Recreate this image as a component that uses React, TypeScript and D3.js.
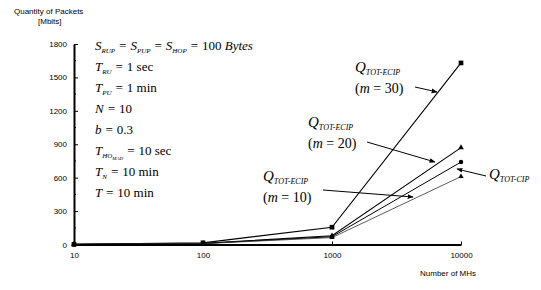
import React, { useEffect, useRef } from "react";
import * as d3 from "d3";

// number of MHs (x) and packet quantity in Mbits (y)
const mhs = [10, 100, 1000, 10000];
const ecip30 = [1, 15, 155, 1630];
const ecip20 = [1, 10, 78, 870];
const cipTot = [1, 9, 70, 740];
const ecip10 = [1, 8, 62, 610];
const yTicks = [0, 300, 600, 900, 1200, 1500, 1800];
const xTicks = [10, 100, 1000, 10000];

const W = 541;
const H = 290;
const margin = { left: 74, top: 44, right: 80, bottom: 45.5 };

const series = [
  { name: "m30", values: ecip30, symbol: d3.symbolSquare, size: 22, stroke: "#000", sw: 1.1 },
  { name: "m20", values: ecip20, symbol: d3.symbolTriangle, size: 14, stroke: "#000", sw: 1.1 },
  { name: "cip", values: cipTot, symbol: d3.symbolCircle, size: 16, stroke: "#000", sw: 1 },
  { name: "m10", values: ecip10, symbol: d3.symbolTriangle, size: 12, stroke: "#333", sw: 0.8 },
];

const serif = "'Liberation Serif', 'DejaVu Serif', serif";
const sans = "'Liberation Sans', Arial, sans-serif";

function Sub({ children }: { children: React.ReactNode }) {
  return (
    <tspan fontSize={7} baselineShift="-3" fontStyle="italic">
      {children}
    </tspan>
  );
}

export default function App() {
  const gx = useRef<SVGGElement>(null);
  const gy = useRef<SVGGElement>(null);

  const x = d3.scaleLog().domain([10, 10000]).range([margin.left, W - margin.right]);
  const y = d3.scaleLinear().domain([0, 1800]).range([H - margin.bottom, margin.top]);

  useEffect(() => {
    const ax = d3.axisBottom(x).tickValues(xTicks).tickFormat(d3.format("d")).tickSizeInner(-3).tickSizeOuter(0).tickPadding(8);
    const sx = d3.select(gx.current!).call(ax);
    sx.select(".domain").attr("stroke-width", 2);
    sx.selectAll("text").attr("font-family", sans).attr("font-size", 8);

    const ay = d3.axisLeft(y).tickValues(yTicks).tickFormat(d3.format("d")).tickSizeInner(-4).tickSizeOuter(0).tickPadding(7);
    const sy = d3.select(gy.current!).call(ay);
    sy.select(".domain").attr("stroke-width", 2);
    sy.selectAll("text").attr("font-family", sans).attr("font-size", 8);
    // minor ticks
    sy.selectAll(".minor")
      .data(d3.range(150, 1800, 300))
      .join("line")
      .attr("class", "minor")
      .attr("x1", 0)
      .attr("x2", 2)
      .attr("y1", (d) => y(d))
      .attr("y2", (d) => y(d))
      .attr("stroke", "#000");
  }, []);

  const line = d3
    .line<number>()
    .x((_, i) => x(mhs[i]))
    .y((d) => y(d));

  const arrow = (x1: number, y1: number, x2: number, y2: number, key: string) => (
    <line key={key} x1={x1} y1={y1} x2={x2} y2={y2} stroke="#000" strokeWidth={1} markerEnd="url(#ah)" />
  );

  const paramLines: React.ReactNode[] = [
    <>
      S<Sub>RUP</Sub> = S<Sub>PUP</Sub> = S<Sub>HOP</Sub> = <tspan fontStyle="normal">100</tspan> Bytes
    </>,
    <>
      T<Sub>RU</Sub> = <tspan fontStyle="normal">1 sec</tspan>
    </>,
    <>
      T<Sub>PU</Sub> = <tspan fontStyle="normal">1 min</tspan>
    </>,
    <>
      N = <tspan fontStyle="normal">10</tspan>
    </>,
    <>
      b = <tspan fontStyle="normal">0.3</tspan>
    </>,
    <>
      T<Sub>HO</Sub>
      <tspan fontSize={5} baselineShift="-5" fontStyle="italic">MAD</tspan>
      <tspan baselineShift="0"> = </tspan>
      <tspan fontStyle="normal">10 sec</tspan>
    </>,
    <>
      T<Sub>N</Sub> = <tspan fontStyle="normal">10 min</tspan>
    </>,
    <>
      T = <tspan fontStyle="normal">10 min</tspan>
    </>,
  ];

  const qLabel = (lx: number, ly: number, sub: string, m: string | null, key: string) => (
    <g key={key} fontFamily={serif}>
      <text x={lx} y={ly} fontSize={15} fontStyle="italic">
        Q<tspan fontSize={8} baselineShift="-3">{sub}</tspan>
      </text>
      {m && (
        <text x={lx} y={ly + 21} fontSize={14}>
          (<tspan fontStyle="italic">m</tspan> = {m})
        </text>
      )}
    </g>
  );

  return (
    <svg width={W} height={H} style={{ position: "absolute", left: 0, top: 0, background: "#fff" }}>
      <defs>
        <marker id="ah" viewBox="0 0 10 10" refX="9" refY="5" markerWidth="6" markerHeight="6" orient="auto">
          <path d="M0,1 L10,5 L0,9 z" fill="#000" />
        </marker>
      </defs>

      <text x={14} y={14} fontFamily={sans} fontSize={8}>Quantity of Packets</text>
      <text x={38} y={24} fontFamily={sans} fontSize={8}>[Mbits]</text>
      <text x={420} y={276} fontFamily={sans} fontSize={8}>Number of MHs</text>

      {series.map((s) => (
        <g key={s.name}>
          <path d={line(s.values) ?? ""} fill="none" stroke={s.stroke} strokeWidth={s.sw} />
          {s.values.map((v, i) => (
            <path
              key={i}
              transform={`translate(${x(mhs[i])},${y(v)})`}
              d={d3.symbol().type(s.symbol).size(s.size)() ?? ""}
              fill="#000"
            />
          ))}
        </g>
      ))}

      <g ref={gx} transform={`translate(0,${H - margin.bottom})`} />
      <g ref={gy} transform={`translate(${margin.left},0)`} />

      <g fontFamily={serif} fontSize={13} fontStyle="italic">
        {paramLines.map((c, i) => (
          <text key={i} x={95} y={50 + i * 21}>
            {c}
          </text>
        ))}
      </g>

      {qLabel(355, 72, "TOT-ECIP", "30", "l30")}
      {qLabel(308, 127, "TOT-ECIP", "20", "l20")}
      {qLabel(263, 181, "TOT-ECIP", "10", "l10")}
      {qLabel(489, 179, "TOT-CIP", null, "lcip")}

      {arrow(415, 87, 437, 92, "a30")}
      {arrow(367, 142, 435, 162, "a20")}
      {arrow(323, 190, 413, 197, "a10")}
      {arrow(486, 176, 457, 169, "acip")}
    </svg>
  );
}
